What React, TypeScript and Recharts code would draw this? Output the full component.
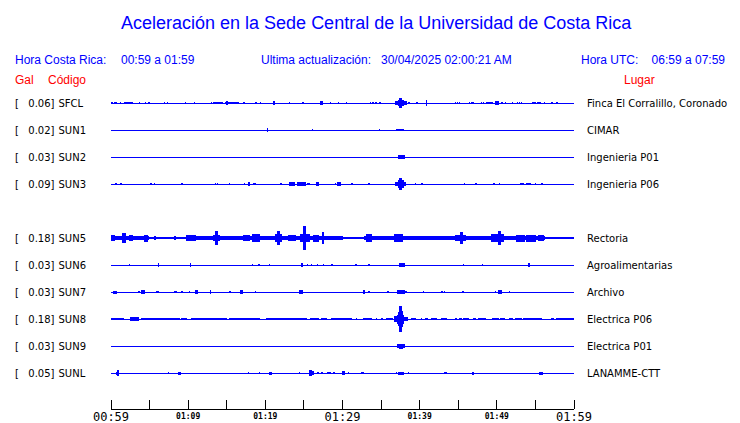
import { Area, ComposedChart, ReferenceLine, XAxis, YAxis } from 'recharts';

// [start minute, end minute, half amplitude in % of trace spacing]; minutes counted from 00:59
type Burst = [number, number, number];

const CODES = ['SFCL', 'SUN1', 'SUN2', 'SUN3', 'SUN5', 'SUN6', 'SUN7', 'SUN8', 'SUN9', 'SUNL'];
const PEAK_GAL = ['0.06', '0.02', '0.03', '0.09', '0.18', '0.03', '0.03', '0.18', '0.03', '0.05'];
const PLACES = [
  'Finca El Corralillo, Coronado',
  'CIMAR',
  'Ingenieria P01',
  'Ingenieria P06',
  'Rectoria',
  'Agroalimentarias',
  'Archivo',
  'Electrica P06',
  'Electrica P01',
  'LANAMME-CTT',
];
// row slot of every trace (slot 4 is empty, SUN4 is not reporting)
const ROWS = [0, 1, 2, 3, 5, 6, 7, 8, 9, 10];
const NOISE_FLOOR = [0, 0, 0, 0, 4, 0, 0, 0, 0, 0];

const TIME_TICKS = [0, 5, 10, 15, 20, 25, 30, 35, 40, 45, 50, 55, 60];
const TIME_LABELS: Record<number, string> = {
  0: '00:59',
  10: '01:09',
  20: '01:19',
  30: '01:29',
  40: '01:39',
  50: '01:49',
  60: '01:59',
};

const SFCL: Burst[] = [
  [0, 0.17, 3], [0.39, 0.73, 3], [1.17, 1.17, 2.5], [1.73, 2.25, 3], [2.33, 2.76, 3],
  [3.67, 3.67, 2.5], [4.41, 4.41, 2.5], [4.84, 5.05, 3], [6.91, 6.91, 2.5], [7.3, 7.3, 2.5],
  [9.63, 9.63, 2.5], [10.8, 10.8, 2.5], [12.96, 12.96, 2.5], [13.26, 13.48, 3], [13.69, 14.43, 3],
  [14.9, 14.98, 3.5], [14.98, 15.1, 7], [15.1, 16.5, 3.5], [17.19, 17.19, 2.5], [18.75, 18.75, 2.5],
  [19.35, 19.35, 2.5], [21.0, 21.2, 5], [23.1, 23.1, 2.5], [24.84, 24.84, 2.5], [27.17, 27.39, 7],
  [28.42, 28.42, 2.5], [29.46, 29.46, 2.5], [30.5, 30.5, 2.5], [33.6, 33.6, 2.5], [33.9, 33.9, 2.5],
  [34.3, 34.3, 3], [34.8, 34.8, 2.5], [36.9, 37.3, 5], [37.3, 37.45, 9], [37.45, 37.65, 15],
  [37.65, 37.85, 9], [37.85, 38.3, 5], [38.6, 38.6, 2.5], [39.6, 39.6, 2], [40.86, 40.86, 9],
  [44.58, 44.58, 2], [44.88, 44.88, 2], [45.14, 45.14, 2.5], [46.44, 46.44, 2.5], [46.74, 46.95, 3],
  [47.95, 47.95, 2.5], [48.25, 48.25, 2.5], [48.6, 49.42, 3], [49.85, 50.2, 4], [50.63, 50.63, 2.5],
  [51.06, 51.06, 2.5], [52.0, 52.0, 2.5], [52.66, 52.66, 2.5], [52.92, 52.92, 2.5], [53.2, 53.2, 2.5],
  [54.6, 54.95, 3], [55.25, 55.68, 3], [56.15, 56.15, 2.5], [57.1, 57.1, 2.5], [57.75, 57.75, 2],
];

const SUN1: Burst[] = [
  [20.26, 20.26, 4], [26.1, 26.1, 2.5], [34.73, 34.73, 2], [37.06, 37.06, 2], [37.3, 37.9, 3.5],
];

const SUN2: Burst[] = [[37.3, 37.97, 5]];

const SUN3: Burst[] = [
  [0.6, 0.6, 2.5], [1.2, 1.35, 3], [5.14, 5.14, 2.5], [5.62, 5.62, 2], [9.16, 9.3, 3],
  [13.48, 13.48, 3], [13.78, 13.78, 3], [15.33, 15.33, 1.5], [17.28, 17.28, 3], [17.85, 17.95, 7],
  [18.44, 18.75, 3], [22.03, 22.03, 1.5], [23.07, 23.76, 4], [24.15, 24.7, 4], [24.8, 25.2, 4],
  [25.4, 25.66, 3], [26.65, 26.87, 6], [29.03, 29.03, 3], [29.33, 29.76, 4], [31.2, 31.2, 1.5],
  [33.35, 33.5, 3], [36.9, 37.3, 6], [37.3, 37.45, 12], [37.45, 37.7, 19], [37.7, 37.85, 12],
  [37.85, 38.2, 6], [39.4, 39.4, 3], [40.26, 40.26, 3], [45.8, 45.8, 2], [47.26, 47.26, 3],
  [49.63, 49.63, 3], [50.32, 50.32, 3], [53.1, 53.5, 3], [53.87, 54.3, 3], [54.95, 54.95, 3],
  [55.8, 55.8, 3],
];

const SUN5: Burst[] = [
  [0, 0.5, 8], [0.5, 1.55, 6], [1.55, 1.85, 16], [1.85, 2.4, 5], [2.46, 2.76, 8],
  [3.3, 3.55, 7], [4.4, 4.75, 11], [4.85, 5.6, 1.5], [5.6, 5.75, 5], [5.75, 8.2, 1.5],
  [8.2, 8.35, 4], [8.35, 9.8, 1.5], [9.8, 10.9, 8.5], [13.3, 13.5, 10], [13.5, 13.8, 23],
  [13.8, 14.0, 10], [17.15, 18.0, 9], [18.4, 19.3, 13], [20.4, 20.6, 7], [21.3, 21.6, 12],
  [21.6, 21.9, 23], [21.9, 22.1, 12], [23.0, 23.85, 8.5], [24.5, 25.0, 13], [25.0, 25.2, 41],
  [25.2, 25.7, 13], [26.2, 26.9, 11], [27.4, 27.6, 21], [28.4, 29.0, 7], [30.0, 32.8, 2.5],
  [33.1, 33.8, 14], [36.8, 37.8, 14], [39.2, 39.8, 7], [40.0, 40.7, 6], [44.6, 45.3, 9],
  [45.3, 45.6, 19], [45.6, 45.9, 9], [46.5, 48.0, 6], [49.3, 50.2, 12], [50.2, 50.5, 25],
  [50.5, 50.8, 12], [52.6, 53.6, 11], [53.9, 55.0, 11], [55.4, 56.0, 8], [56.2, 60, 3],
];

const SUN6: Burst[] = [
  [2.38, 2.38, 1.5], [6.1, 6.2, 7], [10.3, 10.35, 6], [18.3, 18.3, 1.5], [19.1, 19.2, 3],
  [20.5, 20.5, 2], [24.7, 24.75, 6], [25.4, 25.4, 3], [25.96, 25.96, 3], [26.7, 26.7, 2],
  [27.5, 27.5, 1.5], [28.6, 28.6, 3], [31.65, 31.8, 3], [33.4, 33.4, 3], [37.4, 38.0, 4],
  [45.66, 45.66, 3], [48.1, 48.1, 1.5], [54.05, 54.2, 4],
];

const SUN7: Burst[] = [
  [0.3, 0.73, 3.5], [3.6, 3.6, 2], [4.0, 4.3, 7], [5.95, 6.1, 3], [8.25, 8.45, 3],
  [9.16, 9.16, 3], [10.15, 10.15, 3], [10.9, 11.25, 4], [12.85, 12.95, 7], [15.4, 15.45, 3],
  [16.8, 17.06, 4], [18.7, 18.7, 1.5], [24.4, 24.8, 4], [32.75, 32.85, 6], [33.4, 33.4, 3],
  [35.85, 35.85, 3], [37.1, 37.4, 5], [37.4, 37.6, 7], [37.6, 38.0, 5], [38.2, 38.2, 2],
  [40.5, 40.5, 1.5], [42.85, 42.85, 3], [43.2, 43.2, 3], [45.6, 45.6, 3], [49.8, 49.8, 3],
  [50.2, 50.6, 5], [51.6, 51.6, 3],
];

const SUN8: Burst[] = [
  [0, 1.6, 3], [2.5, 2.7, 4], [2.7, 2.95, 6], [2.95, 3.5, 4], [3.9, 8.9, 3],
  [9.2, 9.8, 3], [10.4, 15.0, 3], [15.4, 19.3, 3], [20.2, 21.0, 3], [21.25, 25.35, 3],
  [25.8, 26.9, 3], [27.3, 27.9, 2.5], [28.6, 31.2, 3], [31.8, 31.8, 2], [32.7, 33.8, 3],
  [34.4, 34.4, 2.5], [35.1, 35.1, 2.5], [35.7, 36.5, 3], [36.8, 37.1, 8], [37.1, 37.3, 15],
  [37.3, 37.45, 25], [37.45, 37.6, 45], [37.6, 37.75, 28], [37.75, 37.95, 15], [37.95, 38.4, 6],
  [39.0, 39.4, 3], [40.2, 40.3, 3], [40.7, 41.0, 3], [41.5, 42.2, 3], [42.85, 43.5, 3],
  [44.6, 44.8, 3], [45.2, 45.4, 3], [45.7, 46.3, 3], [47.0, 47.2, 3], [47.6, 48.5, 3],
  [49.5, 50.2, 3], [50.5, 51.0, 3], [51.7, 52.0, 3], [52.4, 53.2, 3], [53.5, 55.8, 3],
  [57.1, 57.3, 3], [57.7, 60, 3],
];

const SUN9: Burst[] = [[37.15, 37.45, 5], [37.45, 37.75, 7.5], [37.75, 38.0, 5]];

const SUNL: Burst[] = [
  [0.73, 0.85, 4], [0.85, 0.95, 8], [7.43, 7.43, 3], [8.73, 9.03, 4], [17.8, 17.8, 3],
  [19.2, 19.2, 1.5], [20.5, 20.8, 4], [24.4, 24.4, 1.5], [25.66, 25.85, 8], [25.85, 26.0, 10],
  [26.0, 26.2, 5], [26.8, 26.8, 3], [27.3, 27.3, 1.5], [28.1, 28.4, 3], [28.86, 28.86, 2],
  [30.0, 30.3, 7], [30.75, 30.75, 2], [32.5, 32.5, 3], [32.7, 32.7, 2], [37.0, 37.0, 1.5],
  [37.3, 37.9, 4], [38.5, 38.5, 1.5], [43.2, 43.2, 3], [43.4, 43.4, 3], [46.85, 46.95, 4],
  [55.5, 55.6, 4], [55.8, 55.9, 4],
];

const TRACE_BURSTS: Burst[][] = [SFCL, SUN1, SUN2, SUN3, SUN5, SUN6, SUN7, SUN8, SUN9, SUNL];

const BLUE = '#0000ff';
const RED = '#ff0000';
const SPIKE_WIDTH = 0.06;
const LABEL_FONT = '"DejaVu Sans", sans-serif';
const HEAD_FONT = '"Liberation Sans", Arial, sans-serif';
const MONO_FONT = '"DejaVu Sans Mono", monospace';

// step envelope: each point holds its band until the next point
function buildTrace(row: number, bursts: Burst[], floor: number) {
  const band = (a: number) => [row - a / 100, row + a / 100];
  const points: { t: number; band: number[] }[] = [{ t: 0, band: band(floor) }];
  bursts.forEach(([start, end, amp], i) => {
    points.push({ t: start, band: band(amp) });
    const stop = Math.max(end, start + SPIKE_WIDTH);
    const next = bursts[i + 1];
    if (!next || next[0] > stop) points.push({ t: Math.min(stop, 60), band: band(floor) });
  });
  points.push({ t: 60, band: band(floor) });
  return points;
}

const TRACES = TRACE_BURSTS.map((bursts, i) => buildTrace(ROWS[i], bursts, NOISE_FLOOR[i]));

function StationTick({ y, payload }: any) {
  const i = ROWS.indexOf(payload.value);
  return (
    <g fontFamily={LABEL_FONT} fontSize={10} fill="#000">
      <text x={15} y={y} dy={4}>[</text>
      <text x={54.5} y={y} dy={4} textAnchor="end">{PEAK_GAL[i]}]</text>
      <text x={58.5} y={y} dy={4}>{CODES[i]}</text>
    </g>
  );
}

function PlaceTick({ x, y, payload }: any) {
  const i = ROWS.indexOf(payload.value);
  return (
    <text x={x} y={y} dy={4} textAnchor="start" fontFamily={LABEL_FONT} fontSize={10} fill="#000">
      {PLACES[i]}
    </text>
  );
}

function TimeTick({ x, y, payload }: any) {
  const label = TIME_LABELS[payload.value];
  const big = payload.value % 30 === 0;
  return (
    <g>
      <line x1={x} y1={y - 9} x2={x} y2={y} stroke="#000" strokeWidth={1} />
      {label && (
        <text
          x={x}
          y={y + (big ? 12 : 10)}
          textAnchor="middle"
          fontFamily={MONO_FONT}
          fontSize={big ? 12 : 8}
          fontWeight={big ? 'normal' : 'bold'}
          fill="#000"
        >
          {label}
        </text>
      )}
    </g>
  );
}

export default function App() {
  return (
    <div style={{ position: 'absolute', left: 0, top: 0, width: 740, height: 423, background: '#fff' }}>
      <style>{'.traces path, .traces line { shape-rendering: crispEdges; }'}</style>
      <svg width={740} height={423} style={{ position: 'absolute', left: 0, top: 0 }}>
        <text x={121} y={29} fontFamily={HEAD_FONT} fontSize={18} fill={BLUE}>
          Aceleración en la Sede Central de la Universidad de Costa Rica
        </text>
        <g fontFamily={HEAD_FONT} fontSize={12} fill={BLUE}>
          <text x={15} y={64}>Hora Costa Rica:</text>
          <text x={121} y={64}>00:59 a 01:59</text>
          <text x={261} y={64}>Ultima actualización:</text>
          <text x={381} y={64}>30/04/2025 02:00:21 AM</text>
          <text x={581} y={64}>Hora UTC:</text>
          <text x={725} y={64} textAnchor="end">06:59 a 07:59</text>
        </g>
        <g fontFamily={HEAD_FONT} fontSize={12} fill={RED}>
          <text x={15} y={84}>Gal</text>
          <text x={48} y={84}>Código</text>
          <text x={624} y={84}>Lugar</text>
        </g>
      </svg>
      <div className="traces" style={{ position: 'absolute', left: 0, top: 0 }}>
        <ComposedChart width={740} height={423} margin={{ top: 76, right: 0, bottom: 0, left: 0 }}>
          <XAxis
            type="number"
            dataKey="t"
            domain={[0, 60]}
            ticks={TIME_TICKS}
            interval={0}
            allowDataOverflow
            height={14}
            axisLine={{ stroke: '#000' }}
            tickLine={false}
            tickSize={0}
            tickMargin={0}
            tick={(p: any) => <TimeTick {...p} />}
          />
          <YAxis
            yAxisId="left"
            type="number"
            domain={[-1, 11.33]}
            reversed
            allowDataOverflow
            ticks={ROWS}
            interval={0}
            width={111}
            axisLine={false}
            tickLine={false}
            tick={(p: any) => <StationTick {...p} />}
          />
          <YAxis
            yAxisId="right"
            orientation="right"
            type="number"
            domain={[-1, 11.33]}
            reversed
            allowDataOverflow
            ticks={ROWS}
            interval={0}
            width={166}
            axisLine={false}
            tickLine={false}
            tickSize={0}
            tickMargin={13}
            tick={(p: any) => <PlaceTick {...p} />}
          />
          {ROWS.map((row) => (
            <ReferenceLine key={`base-${row}`} yAxisId="left" y={row} stroke={BLUE} strokeWidth={1} />
          ))}
          {TRACES.map((data, i) => (
            <Area
              key={CODES[i]}
              yAxisId="left"
              data={data}
              dataKey="band"
              type="stepAfter"
              stroke={BLUE}
              strokeWidth={1}
              fill={BLUE}
              fillOpacity={1}
              dot={false}
              activeDot={false}
              isAnimationActive={false}
            />
          ))}
        </ComposedChart>
      </div>
    </div>
  );
}
